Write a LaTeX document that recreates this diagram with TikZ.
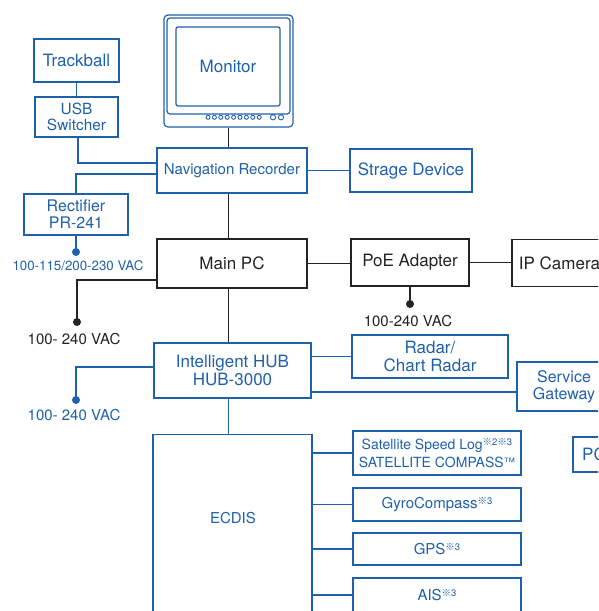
\documentclass[tikz,border=0pt]{standalone}
\usepackage{fontspec}
\setmainfont{TeX Gyre Heros}
\newfontfamily\jpfont{Noto Sans CJK JP}
\definecolor{navblue}{RGB}{30,96,170}
\definecolor{ink}{RGB}{38,34,35}
\newcommand\refnote[1]{\raisebox{4.5pt}{\fontsize{9.5}{9.5}\selectfont{\jpfont ※}#1}}
\newcommand\tmark{\raisebox{1pt}{\fontsize{11.5}{11.5}\selectfont ™}}
\begin{document}
\begin{tikzpicture}[x=1pt, y=-1pt,
  bluebox/.style={draw=navblue, line width=1.3pt, text=navblue, inner sep=0pt, align=center},
  darkbox/.style={draw=ink, line width=1.2pt, text=ink, inner sep=0pt, align=center},
  bline/.style={navblue, line width=1.2pt},
  kline/.style={ink, line width=1.2pt},
  fbig/.style={font=\fontsize{17}{18}\selectfont},
  fmid/.style={font=\fontsize{15}{17}\selectfont},
  fsmall/.style={font=\fontsize{14}{18}\selectfont}]
\useasboundingbox (0,0) rectangle (598,611);
\clip (0,0) rectangle (598,611);

% monitor
\node[draw=navblue, line width=1.2pt, rounded corners=4pt, minimum width=129, minimum height=112] (mon) at (228.5,71) {};
\node[draw=navblue, line width=1.2pt, rounded corners=3pt, minimum width=123, minimum height=96] (bezel) at (228.5,66) {};
\node[bluebox, fbig, line width=1.2pt, rounded corners=2pt, minimum width=104, minimum height=79] (screen) at (228,66.5) {Monitor};
\foreach \i in {0,...,8}
  \draw[navblue, line width=.9pt] (208+6.4*\i,117.3) circle (2pt);
\foreach \x in {273,281}
  \draw[navblue, line width=.9pt] (\x,117.3) circle (2.6pt);

% left column
\node[bluebox, fbig, minimum width=85, minimum height=43] (track) at (76.5,60.5) {Trackball};
\node[bluebox, font=\fontsize{15.4}{16}\selectfont, minimum width=83, minimum height=40] (usb) at (76.5,117) {USB\\Switcher};
\node[bluebox, font=\fontsize{16}{17}\selectfont, minimum width=104, minimum height=41] (rect) at (76,214.5) {Rectifier\\PR-241};

% centre column
\node[bluebox, fmid, minimum width=150, minimum height=45] (nav) at (232,170.5) {Navigation Recorder};
\node[darkbox, fbig, minimum width=150, minimum height=49] (mainpc) at (232,263.5) {Main PC};
\node[bluebox, fbig, minimum width=157, minimum height=55] (hub) at (232.5,370.5) {Intelligent HUB\\HUB-3000};
\node[bluebox, minimum width=159, minimum height=220, anchor=north] (ecdis) at (232.5,434) {};
\node[fmid, text=navblue] (ecdistext) at (233,518) {ECDIS};

% right side
\node[bluebox, fbig, minimum width=122, minimum height=43] (store) at (411,170.5) {Strage Device};
\node[darkbox, fbig, minimum width=118, minimum height=47] (poe) at (410,262.5) {PoE Adapter};
\node[darkbox, fbig, minimum width=95, minimum height=47] (cam) at (559.5,263) {IP Camera};
\node[bluebox, fbig, minimum width=156, minimum height=43] (radar) at (430,356.5) {Radar/\\Chart Radar};
\node[bluebox, font=\fontsize{16}{17}\selectfont, minimum width=94, minimum height=49] (sgw) at (564,386.5) {Service\\Gateway};
\node[bluebox, fsmall, minimum width=168, minimum height=44] (sat) at (437,453) {Satellite Speed Log\refnote{2}\refnote{3}\\SATELLITE COMPASS\tmark};
\node[bluebox, fmid, minimum width=168, minimum height=33] (gyro) at (437,504.5) {GyroCompass\refnote{3}};
\node[bluebox, fmid, minimum width=168, minimum height=32] (gps) at (437,549) {GPS\refnote{3}};
\node[bluebox, fmid, minimum width=168, minimum height=34] (ais) at (437,595) {AIS\refnote{3}};
\node[bluebox, fbig, minimum width=42, minimum height=35] (pc) at (594,454.5) {PC};

% power feeds
\coordinate (dpr) at (76,252);
\coordinate (dpc) at (77,322);
\coordinate (dpoe) at (410,304);
\coordinate (dhub) at (76,400);
\node[font=\fontsize{13.3}{15}\selectfont, text=navblue, anchor=base] (vpr) at (78,270.5) {100-115/200-230 VAC};
\node[fmid, text=ink, anchor=base] (vpc) at (74,344) {100- 240 VAC};
\node[fmid, text=ink, anchor=base] (vpoe) at (408,326) {100-240 VAC};
\node[fmid, text=navblue, anchor=base] (vhub) at (74,420) {100- 240 VAC};

% spine
\draw[kline] (mon.south) -- (mon.south |- nav.north);
\draw[kline] (mon.south |- nav.south) -- (mon.south |- mainpc.north);
\draw[kline] (mon.south |- mainpc.south) -- (mon.south |- hub.north);
\draw[bline] (mon.south |- hub.south) -- (mon.south |- ecdis.north);

% connectors
\draw[bline] (track.south) -- (usb.north);
\draw[bline] ([xshift=1.5pt]usb.south) |- ([yshift=7.5pt]nav.west);
\draw[bline] ([yshift=-3.5pt]nav.west) -| (rect.north);
\draw[bline] (rect.south) -- (dpr);
\fill[navblue] (dpr) circle (4pt);
\draw[bline] (nav.east) -- (store.west);
\draw[kline] ([yshift=-16.5pt]mainpc.west) -| (dpc);
\fill[ink] (dpc) circle (4pt);
\draw[kline] (mainpc.east) -- (mainpc.east -| poe.west);
\draw[kline] (poe.east) -- (poe.east -| cam.west);
\draw[kline] (poe.south) -- (dpoe);
\fill[ink] (dpoe) circle (4pt);
\draw[bline] ([yshift=3.5pt]hub.west) -| (dhub);
\fill[navblue] (dhub) circle (4pt);
\draw[bline] (hub.east |- radar.west) -- (radar.west);
\draw[bline] ([yshift=-21.5pt]hub.east) -- ([yshift=-21.5pt]hub.east -| sgw.west);
\foreach \n in {sat,gyro,gps,ais}
  \draw[bline] (ecdis.east |- \n.west) -- (\n.west);

\end{tikzpicture}
\end{document}
